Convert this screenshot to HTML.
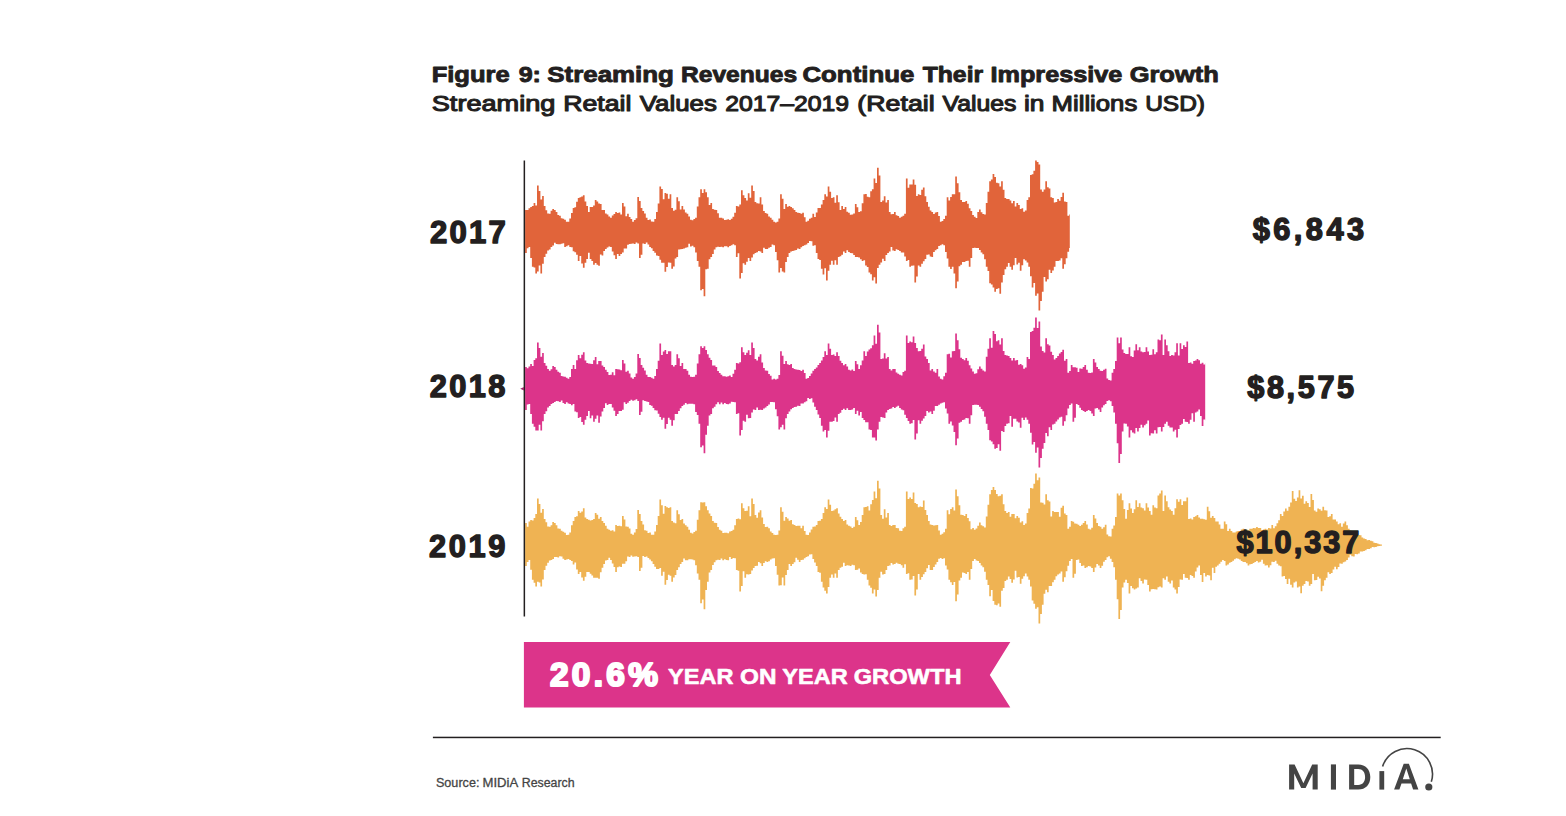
<!DOCTYPE html>
<html><head><meta charset="utf-8"><title>Figure 9: Streaming Revenues Continue Their Impressive Growth</title>
<style>
html,body{margin:0;padding:0;background:#fff;}
body{width:1566px;height:816px;overflow:hidden;position:relative;font-family:"Liberation Sans", sans-serif;}
svg{position:absolute;left:0;top:0;}
text{font-family:"Liberation Sans", sans-serif;}
</style></head>
<body>
<svg width="1566" height="816" viewBox="0 0 1566 816">
<path d="M525.1 210.0H526.8V209.9H528.5V208.2H530.2V207.0H531.9V205.9H533.6V202.9H535.3V205.4H537.0V185.4H538.7V190.9H540.4V199.4H542.1V196.0H543.8V206.0H545.5V210.2H547.2V213.5H548.9V213.8H550.6V210.7H552.3V209.0H554.0V210.0H555.7V211.9H557.4V215.0H559.1V215.8H560.8V218.2H562.5V218.8H564.2V219.7H565.9V221.7H567.6V221.7H569.3V218.5H571.0V213.0H572.7V208.0H574.4V207.2H576.1V201.7H577.8V198.0H579.5V197.3H581.2V196.5H582.9V195.2H584.6V201.5H586.3V206.0H588.0V211.9H589.7V207.0H591.4V207.0H593.1V205.6H594.8V200.0H596.5V201.6H598.2V203.6H599.9V204.0H601.6V210.0H603.3V210.0H605.0V213.6H606.7V214.5H608.4V216.5H610.1V217.7H611.8V215.5H613.5V214.0H615.2V211.9H616.9V213.1H618.6V212.5H620.3V214.4H622.0V203.0H623.7V206.4H625.4V216.2H627.1V213.8H628.8V217.1H630.5V219.0H632.2V221.7H633.9V219.9H635.6V218.3H637.3V197.0H639.0V201.1H640.7V208.0H642.4V211.1H644.1V213.5H645.8V217.7H647.5V219.9H649.2V219.6H650.9V221.5H652.6V221.7H654.3V219.1H656.0V211.9H657.7V203.5H659.4V186.4H661.1V188.9H662.8V199.3H664.5V193.0H666.2V193.8H667.9V198.8H669.6V194.2H671.3V208.0H673.0V210.7H674.7V209.8H676.4V197.2H678.1V201.3H679.8V209.6H681.5V206.0H683.2V209.4H684.9V212.5H686.6V213.8H688.3V216.6H690.0V219.7H691.7V220.2H693.4V219.0H695.1V217.7H696.8V206.4H698.5V197.2H700.2V189.3H701.9V193.0H703.6V189.3H705.3V192.2H707.0V197.2H708.7V204.9H710.4V203.0H712.1V209.0H713.8V209.8H715.5V210.0H717.2V213.3H718.9V217.8H720.6V217.7H722.3V218.4H724.0V219.9H725.7V219.7H727.4V219.2H729.1V220.0H730.8V218.7H732.5V216.8H734.2V212.7H735.9V206.0H737.6V206.5H739.3V204.6H741.0V190.3H742.7V195.2H744.4V198.1H746.1V200.6H747.8V193.2H749.5V197.8H751.2V185.4H752.9V190.9H754.6V202.0H756.3V203.3H758.0V203.6H759.7V197.2H761.4V204.6H763.1V210.9H764.8V213.0H766.5V213.8H768.2V216.5H769.9V217.7H771.6V219.8H773.3V221.7H775.0V222.5H776.7V221.7H778.4V218.6H780.1V194.2H781.8V198.7H783.5V209.1H785.2V204.0H786.9V206.8H788.6V206.1H790.3V207.0H792.0V208.3H793.7V210.1H795.4V211.9H797.1V212.8H798.8V212.9H800.5V213.7H802.2V212.8H803.9V217.3H805.6V221.7H807.3V220.8H809.0V218.7H810.7V217.8H812.4V213.8H814.1V217.0H815.8V212.6H817.5V208.0H819.2V207.9H820.9V204.5H822.6V200.0H824.3V194.2H826.0V196.4H827.7V186.4H829.4V191.8H831.1V198.1H832.8V197.2H834.5V202.7H836.2V195.2H837.9V202.2H839.6V210.1H841.3V206.0H843.0V209.1H844.7V207.0H846.4V211.7H848.1V212.8H849.8V214.7H851.5V214.5H853.2V213.4H854.9V204.0H856.6V207.3H858.3V211.9H860.0V211.3H861.7V203.2H863.4V194.2H865.1V194.0H866.8V196.7H868.5V197.2H870.2V191.3H871.9V189.2H873.6V178.5H875.3V182.9H877.0V167.7H878.7V175.4H880.4V202.0H882.1V200.4H883.8V196.2H885.5V202.6H887.2V200.0H888.9V211.9H890.6V214.2H892.3V214.1H894.0V211.9H895.7V215.3H897.4V216.1H899.1V217.7H900.8V216.8H902.5V215.7H904.2V213.8H905.9V178.5H907.6V187.7H909.3V184.4H911.0V184.6H912.7V179.5H914.4V184.7H916.1V196.0H917.8V194.2H919.5V194.9H921.2V189.7H922.9V187.4H924.6V196.2H926.3V202.0H928.0V206.7H929.7V210.6H931.4V211.9H933.1V214.1H934.8V212.6H936.5V211.9H938.2V216.0H939.9V221.7H941.6V221.0H943.3V219.1H945.0V215.8H946.7V197.2H948.4V200.4H950.1V197.0H951.8V194.2H953.5V194.2H955.2V176.6H956.9V183.2H958.6V192.3H960.3V199.9H962.0V202.0H963.7V201.9H965.4V201.1H967.1V203.7H968.8V208.3H970.5V211.1H972.2V214.9H973.9V216.7H975.6V218.0H977.3V212.1H979.0V209.4H980.7V212.3H982.4V213.9H984.1V214.6H985.8V203.1H987.5V191.7H989.2V181.3H990.9V179.5H992.6V174.0H994.3V177.1H996.0V182.7H997.7V183.3H999.4V186.5H1001.1V181.3H1002.8V189.7H1004.5V197.9H1006.2V199.0H1007.9V199.0H1009.6V200.5H1011.3V203.2H1013.0V201.0H1014.7V206.4H1016.4V203.1H1018.1V204.9H1019.8V209.0H1021.5V208.3H1023.2V211.7H1024.9V210.4H1026.6V200.0H1028.3V197.3H1030.0V175.0H1031.7V174.2H1033.4V170.8H1035.1V160.4H1036.8V162.0H1038.5V164.6H1040.2V189.6H1041.9V191.8H1043.6V189.6H1045.3V181.3H1047.0V187.3H1048.7V188.5H1050.4V197.3H1052.1V197.9H1053.8V202.4H1055.5V201.9H1057.2V199.0H1058.9V200.7H1060.6V197.0H1062.3V192.7H1064.0V201.5H1065.7V202.1H1067.4V215.7H1069.1V214.4H1069.8V247.9H1069.1V251.7H1067.4V258.3H1065.7V264.3H1064.0V268.8H1062.3V258.3H1060.6V260.4H1058.9V261.1H1057.2V261.0H1055.5V266.7H1053.8V270.4H1052.1V272.9H1050.4V269.8H1048.7V279.2H1047.0V281.5H1045.3V277.0H1043.6V291.7H1041.9V300.9H1040.2V310.4H1038.5V293.4H1036.8V295.8H1035.1V282.9H1033.4V287.5H1031.7V276.3H1030.0V266.7H1028.3V262.5H1026.6V260.4H1024.9V259.3H1023.2V265.3H1021.5V270.8H1019.8V262.8H1018.1V264.6H1016.4V257.9H1014.7V265.3H1013.0V269.8H1011.3V266.7H1009.6V262.9H1007.9V266.7H1006.2V269.3H1004.5V275.0H1002.8V282.5H1001.1V293.8H999.4V288.2H997.7V289.0H996.0V291.7H994.3V287.6H992.6V284.6H990.9V283.3H989.2V270.9H987.5V266.7H985.8V259.3H984.1V254.2H982.4V252.4H980.7V250.1H979.0V247.9H977.3V247.9H975.6V247.8H973.9V247.9H972.2V258.1H970.5V266.7H968.8V260.7H967.1V260.9H965.4V262.0H963.7V262.1H962.0V264.8H960.3V266.3H958.6V281.5H956.9V288.3H955.2V273.4H953.5V266.8H951.8V269.1H950.1V266.8H948.4V258.4H946.7V252.1H945.0V245.2H943.3V244.2H941.6V245.2H939.9V246.1H938.2V249.1H936.5V250.2H934.8V251.9H933.1V257.0H931.4V256.4H929.7V254.5H928.0V254.7H926.3V258.9H924.6V261.2H922.9V263.8H921.2V266.8H919.5V265.4H917.8V276.4H916.1V282.5H914.4V265.5H912.7V265.8H911.0V266.8H909.3V260.1H907.6V260.9H905.9V256.4H904.2V252.6H902.5V252.6H900.8V251.0H899.1V249.9H897.4V249.2H895.7V251.0H894.0V250.6H892.3V246.9H890.6V251.5H888.9V253.0H887.2V255.0H885.5V260.9H883.8V258.7H882.1V262.6H880.4V264.8H878.7V268.0H877.0V283.4H875.3V277.3H873.6V280.5H871.9V274.3H870.2V272.6H868.5V267.1H866.8V265.4H865.1V260.3H863.4V260.9H861.7V259.3H860.0V257.4H858.3V257.0H856.6V257.0H854.9V255.1H853.2V253.3H851.5V253.0H849.8V252.1H848.1V250.2H846.4V253.0H844.7V251.6H843.0V254.7H841.3V256.3H839.6V257.0H837.9V264.8H836.2V260.2H834.5V264.7H832.8V260.7H831.1V264.8H829.4V270.7H827.7V280.5H826.0V268.2H824.3V274.6H822.6V268.7H820.9V260.0H819.2V259.0H817.5V253.0H815.8V245.2H814.1V245.7H812.4V241.3H810.7V241.0H809.0V242.9H807.3V244.4H805.6V245.2H803.9V246.0H802.2V247.3H800.5V249.1H798.8V248.4H797.1V250.1H795.4V250.6H793.7V251.0H792.0V251.5H790.3V253.1H788.6V257.0H786.9V261.9H785.2V272.6H783.5V271.6H781.8V268.1H780.1V272.6H778.4V260.3H776.7V251.9H775.0V245.2H773.3V244.6H771.6V247.1H769.9V247.8H768.2V249.1H766.5V249.0H764.8V247.8H763.1V253.0H761.4V251.6H759.7V250.9H758.0V252.2H756.3V253.0H754.6V254.2H752.9V257.6H751.2V260.9H749.5V257.9H747.8V261.8H746.1V264.8H744.4V263.3H742.7V272.9H741.0V278.5H739.3V253.2H737.6V257.0H735.9V245.2H734.2V244.2H732.5V245.3H730.8V245.9H729.1V247.2H727.4V246.3H725.7V246.2H724.0V247.2H722.3V246.8H720.6V247.1H718.9V246.8H717.2V247.2H715.5V249.6H713.8V253.9H712.1V257.0H710.4V259.3H708.7V268.7H707.0V269.2H705.3V296.2H703.6V289.1H701.9V290.3H700.2V266.8H698.5V260.9H696.8V252.4H695.1V247.2H693.4V245.8H691.7V246.4H690.0V243.8H688.3V247.2H686.6V247.8H684.9V248.4H683.2V249.1H681.5V249.3H679.8V249.5H678.1V257.0H676.4V258.6H674.7V266.4H673.0V268.7H671.3V262.8H669.6V262.5H667.9V266.9H666.2V271.7H664.5V262.7H662.8V262.8H661.1V259.7H659.4V255.9H657.7V255.5H656.0V252.8H654.3V251.0H652.6V248.2H650.9V247.0H649.2V244.5H647.5V242.4H645.8V244.0H644.1V243.4H642.4V254.8H640.7V258.0H639.0V243.5H637.3V242.5H635.6V244.0H633.9V243.5H632.2V243.8H630.5V244.0H628.8V244.8H627.1V248.5H625.4V248.5H623.7V252.4H622.0V254.0H620.3V255.9H618.6V254.0H616.9V259.0H615.2V255.3H613.5V251.5H611.8V247.0H610.1V246.4H608.4V247.5H606.7V249.0H605.0V251.0H603.3V255.6H601.6V254.6H599.9V265.8H598.2V264.8H596.5V263.0H594.8V264.8H593.1V261.1H591.4V258.9H589.7V252.8H588.0V259.0H586.3V262.7H584.6V267.7H582.9V263.6H581.2V256.1H579.5V260.9H577.8V254.8H576.1V252.3H574.4V251.2H572.7V247.3H571.0V247.0H569.3V245.2H567.6V246.2H565.9V247.0H564.2V243.3H562.5V243.8H560.8V244.3H559.1V244.2H557.4V244.0H555.7V242.7H554.0V245.5H552.3V247.0H550.6V249.5H548.9V250.4H547.2V253.7H545.5V257.0H543.8V263.8H542.1V273.6H540.4V265.4H538.7V271.5H537.0V273.6H535.3V267.6H533.6V266.8H531.9V258.0H530.2V247.0H528.5V248.3H526.8V253.0H525.1Z" fill="#e1643a"/>
<path d="M525.1 367.0H526.8V368.3H528.5V366.6H530.2V364.0H531.9V365.9H533.6V360.0H535.3V358.3H537.0V342.4H538.7V347.9H540.4V356.8H542.1V353.0H543.8V363.0H545.5V365.7H547.2V369.1H548.9V370.8H550.6V369.3H552.3V366.0H554.0V367.0H555.7V369.8H557.4V371.8H559.1V372.8H560.8V376.1H562.5V376.5H564.2V376.7H565.9V377.7H567.6V378.7H569.3V376.9H571.0V368.9H572.7V365.0H574.4V369.0H576.1V360.2H577.8V355.0H579.5V358.2H581.2V354.8H582.9V352.2H584.6V360.4H586.3V363.0H588.0V363.4H589.7V363.8H591.4V364.0H593.1V360.2H594.8V357.0H596.5V364.2H598.2V360.9H599.9V361.0H601.6V365.4H603.3V367.0H605.0V369.8H606.7V371.9H608.4V375.0H610.1V374.7H611.8V372.3H613.5V375.2H615.2V368.9H616.9V369.2H618.6V369.5H620.3V370.3H622.0V360.0H623.7V363.4H625.4V371.8H627.1V370.8H628.8V373.4H630.5V377.5H632.2V378.7H633.9V377.1H635.6V373.4H637.3V354.0H639.0V358.1H640.7V365.0H642.4V367.8H644.1V370.6H645.8V374.7H647.5V377.1H649.2V377.0H650.9V377.7H652.6V378.7H654.3V376.1H656.0V368.9H657.7V360.8H659.4V343.4H661.1V354.9H662.8V351.4H664.5V350.0H666.2V353.9H667.9V351.2H669.6V351.2H671.3V365.0H673.0V366.6H674.7V365.1H676.4V354.2H678.1V358.3H679.8V366.1H681.5V363.0H683.2V369.0H684.9V369.1H686.6V370.8H688.3V374.7H690.0V376.7H691.7V377.1H693.4V376.7H695.1V374.7H696.8V363.5H698.5V354.2H700.2V346.3H701.9V348.0H703.6V346.3H705.3V349.9H707.0V354.2H708.7V357.7H710.4V360.0H712.1V365.5H713.8V365.5H715.5V367.0H717.2V371.0H718.9V372.9H720.6V374.7H722.3V376.2H724.0V376.3H725.7V376.7H727.4V376.2H729.1V375.4H730.8V376.9H732.5V373.8H734.2V369.7H735.9V363.0H737.6V363.4H739.3V362.3H741.0V347.3H742.7V352.2H744.4V355.1H746.1V352.8H747.8V350.2H749.5V355.1H751.2V342.4H752.9V347.9H754.6V359.0H756.3V360.6H758.0V356.7H759.7V354.2H761.4V362.4H763.1V367.9H764.8V370.4H766.5V370.8H768.2V373.9H769.9V375.8H771.6V379.5H773.3V378.7H775.0V379.4H776.7V378.7H778.4V374.9H780.1V351.2H781.8V355.7H783.5V364.0H785.2V361.0H786.9V364.3H788.6V365.0H790.3V364.0H792.0V368.1H793.7V369.0H795.4V369.5H797.1V369.8H798.8V370.0H800.5V371.1H802.2V369.8H803.9V373.0H805.6V378.7H807.3V378.0H809.0V376.0H810.7V373.4H812.4V370.8H814.1V369.1H815.8V367.6H817.5V365.0H819.2V363.0H820.9V360.5H822.6V357.0H824.3V351.2H826.0V355.1H827.7V343.4H829.4V348.8H831.1V355.1H832.8V354.4H834.5V355.9H836.2V352.2H837.9V356.1H839.6V360.7H841.3V363.0H843.0V365.3H844.7V364.0H846.4V366.6H848.1V369.8H849.8V370.4H851.5V369.6H853.2V370.9H854.9V361.0H856.6V364.3H858.3V368.9H860.0V365.2H861.7V360.4H863.4V351.2H865.1V355.9H866.8V351.5H868.5V349.5H870.2V348.3H871.9V345.3H873.6V335.5H875.3V343.7H877.0V324.7H878.7V332.4H880.4V359.0H882.1V358.5H883.8V353.2H885.5V358.4H887.2V357.0H888.9V368.9H890.6V370.5H892.3V369.1H894.0V368.9H895.7V372.4H897.4V373.7H899.1V374.7H900.8V375.4H902.5V371.9H904.2V370.8H905.9V335.5H907.6V343.0H909.3V341.4H911.0V342.3H912.7V336.5H914.4V343.0H916.1V347.9H917.8V351.2H919.5V351.0H921.2V348.7H922.9V344.4H924.6V356.5H926.3V359.0H928.0V363.0H929.7V370.5H931.4V368.9H933.1V371.5H934.8V372.7H936.5V368.9H938.2V376.5H939.9V378.7H941.6V379.6H943.3V376.2H945.0V372.8H946.7V354.2H948.4V353.8H950.1V357.5H951.8V351.2H953.5V350.9H955.2V333.6H956.9V340.2H958.6V349.3H960.3V357.7H962.0V359.0H963.7V360.3H965.4V358.1H967.1V360.7H968.8V365.3H970.5V368.6H972.2V371.4H973.9V373.7H975.6V373.2H977.3V369.3H979.0V366.4H980.7V368.7H982.4V370.5H984.1V371.6H985.8V356.7H987.5V348.7H989.2V338.3H990.9V347.8H992.6V331.0H994.3V334.1H996.0V341.2H997.7V340.3H999.4V344.6H1001.1V338.3H1002.8V350.9H1004.5V354.9H1006.2V355.6H1007.9V356.0H1009.6V358.0H1011.3V360.4H1013.0V358.0H1014.7V360.6H1016.4V360.1H1018.1V364.8H1019.8V364.0H1021.5V365.3H1023.2V368.7H1024.9V367.4H1026.6V357.0H1028.3V359.0H1030.0V332.0H1031.7V331.0H1033.4V327.8H1035.1V317.4H1036.8V328.1H1038.5V321.6H1040.2V346.6H1041.9V351.1H1043.6V352.6H1045.3V338.3H1047.0V344.3H1048.7V345.5H1050.4V351.7H1052.1V354.9H1053.8V359.4H1055.5V358.1H1057.2V356.0H1058.9V353.4H1060.6V352.0H1062.3V349.7H1064.0V360.7H1065.7V359.1H1067.4V372.7H1069.1V371.1H1070.8V364.9H1072.5V367.2H1074.2V367.2H1075.9V367.8H1077.6V372.0H1079.3V368.5H1081.0V368.8H1082.7V366.9H1084.4V364.9H1086.1V369.7H1087.8V372.7H1089.5V372.9H1091.2V372.4H1092.9V359.0H1094.6V362.5H1096.3V366.9H1098.0V369.0H1099.7V370.8H1101.4V371.0H1103.1V369.8H1104.8V368.8H1106.5V378.6H1108.2V380.0H1109.9V380.6H1111.6V372.7H1113.3V368.9H1115.0V361.0H1116.7V337.5H1118.4V343.3H1120.1V337.5H1121.8V349.4H1123.5V353.1H1125.2V353.9H1126.9V354.1H1128.6V347.3H1130.3V356.3H1132.0V357.1H1133.7V350.6H1135.4V344.3H1137.1V350.3H1138.8V347.3H1140.5V351.5H1142.2V352.2H1143.9V352.0H1145.6V347.3H1147.3V351.5H1149.0V355.1H1150.7V354.7H1152.4V349.2H1154.1V354.3H1155.8V352.2H1157.5V339.4H1159.2V340.3H1160.9V334.5H1162.6V355.1H1164.3V339.4H1166.0V345.3H1167.7V351.2H1169.4V356.1H1171.1V355.1H1172.8V355.4H1174.5V352.2H1176.2V343.3H1177.9V355.6H1179.6V343.3H1181.3V349.0H1183.0V345.3H1184.7V347.0H1186.4V341.4H1188.1V362.9H1189.8V362.6H1191.5V363.7H1193.2V361.0H1194.9V360.5H1196.6V359.0H1198.3V360.3H1200.0V363.7H1201.7V362.7H1203.4V364.6H1205.1V362.9H1205.2V420.6H1205.1V419.4H1203.4V426.1H1201.7V416.0H1200.0V409.6H1198.3V411.5H1196.6V412.5H1194.9V421.8H1193.2V413.2H1191.5V419.7H1189.8V423.7H1188.1V422.0H1186.4V421.8H1184.7V419.1H1183.0V423.7H1181.3V424.9H1179.6V428.9H1177.9V437.5H1176.2V429.8H1174.5V431.6H1172.8V427.4H1171.1V427.6H1169.4V425.7H1167.7V421.8H1166.0V423.7H1164.3V427.1H1162.6V431.6H1160.9V427.0H1159.2V427.2H1157.5V433.5H1155.8V430.3H1154.1V433.6H1152.4V433.3H1150.7V435.5H1149.0V420.6H1147.3V423.7H1145.6V425.2H1143.9V427.6H1142.2V424.8H1140.5V428.0H1138.8V431.6H1137.1V428.1H1135.4V433.5H1133.7V432.6H1132.0V430.2H1130.3V437.5H1128.6V426.4H1126.9V423.7H1125.2V423.5H1123.5V431.6H1121.8V454.0H1120.1V462.9H1118.4V443.3H1116.7V423.7H1115.0V412.5H1113.3V406.1H1111.6V401.2H1109.9V400.2H1108.2V400.9H1106.5V404.1H1104.8V405.2H1103.1V407.6H1101.4V412.0H1099.7V409.5H1098.0V408.0H1096.3V408.5H1094.6V415.9H1092.9V413.4H1091.2V411.0H1089.5V410.0H1087.8V411.0H1086.1V412.0H1084.4V410.9H1082.7V410.0H1081.0V407.8H1079.3V404.9H1077.6V404.1H1075.9V417.8H1074.2V421.8H1072.5V403.6H1070.8V404.9H1069.1V408.6H1067.4V415.3H1065.7V421.3H1064.0V425.8H1062.3V416.8H1060.6V417.4H1058.9V419.5H1057.2V421.6H1055.5V423.7H1053.8V424.4H1052.1V429.9H1050.4V427.2H1048.7V436.2H1047.0V433.0H1045.3V443.1H1043.6V448.7H1041.9V457.9H1040.2V467.4H1038.5V447.5H1036.8V452.8H1035.1V442.1H1033.4V444.5H1031.7V432.8H1030.0V423.7H1028.3V419.8H1026.6V417.4H1024.9V419.9H1023.2V417.8H1021.5V427.8H1019.8V422.5H1018.1V421.6H1016.4V418.8H1014.7V418.7H1013.0V426.8H1011.3V415.9H1009.6V423.2H1007.9V423.7H1006.2V426.0H1004.5V432.0H1002.8V431.1H1001.1V450.8H999.4V444.3H997.7V448.0H996.0V448.7H994.3V444.2H992.6V441.6H990.9V440.3H989.2V430.0H987.5V423.7H985.8V416.8H984.1V411.2H982.4V409.0H980.7V406.8H979.0V404.9H977.3V404.8H975.6V404.7H973.9V404.9H972.2V415.2H970.5V423.7H968.8V418.3H967.1V417.9H965.4V419.5H963.7V420.0H962.0V421.8H960.3V422.8H958.6V438.5H956.9V445.3H955.2V432.0H953.5V425.6H951.8V421.4H950.1V423.8H948.4V413.5H946.7V408.6H945.0V402.2H943.3V402.7H941.6V403.4H939.9V404.8H938.2V406.1H936.5V406.1H934.8V410.8H933.1V414.0H931.4V411.6H929.7V412.4H928.0V411.1H926.3V415.9H924.6V418.5H922.9V420.8H921.2V423.8H919.5V420.2H917.8V433.4H916.1V439.5H914.4V420.1H912.7V423.3H911.0V423.8H909.3V421.1H907.6V417.9H905.9V414.8H904.2V410.3H902.5V409.4H900.8V408.0H899.1V405.7H897.4V406.8H895.7V408.0H894.0V406.9H892.3V408.4H890.6V408.9H888.9V410.0H887.2V412.6H885.5V417.9H883.8V417.6H882.1V417.1H880.4V421.8H878.7V429.4H877.0V440.4H875.3V437.6H873.6V437.5H871.9V430.0H870.2V429.6H868.5V422.2H866.8V422.2H865.1V420.1H863.4V417.9H861.7V412.1H860.0V415.6H858.3V410.7H856.6V414.0H854.9V408.1H853.2V409.4H851.5V410.0H849.8V409.9H848.1V408.3H846.4V410.0H844.7V408.8H843.0V410.0H841.3V412.7H839.6V414.0H837.9V421.8H836.2V417.5H834.5V420.9H832.8V421.8H831.1V421.8H829.4V430.7H827.7V437.5H826.0V430.1H824.3V431.6H822.6V425.7H820.9V418.1H819.2V414.5H817.5V410.0H815.8V406.8H814.1V402.5H812.4V398.3H810.7V399.1H809.0V398.1H807.3V401.2H805.6V402.2H803.9V403.5H802.2V403.6H800.5V406.1H798.8V405.8H797.1V406.8H795.4V406.9H793.7V408.0H792.0V409.2H790.3V411.6H788.6V414.0H786.9V418.3H785.2V429.6H783.5V424.7H781.8V427.3H780.1V429.6H778.4V416.2H776.7V409.2H775.0V402.2H773.3V402.1H771.6V402.1H769.9V404.4H768.2V406.1H766.5V407.4H764.8V408.6H763.1V410.0H761.4V409.7H759.7V409.9H758.0V407.5H756.3V410.0H754.6V409.5H752.9V412.4H751.2V417.9H749.5V418.2H747.8V414.7H746.1V421.8H744.4V420.7H742.7V429.9H741.0V435.5H739.3V413.2H737.6V414.0H735.9V402.2H734.2V402.1H732.5V401.8H730.8V403.6H729.1V404.2H727.4V404.1H725.7V403.1H724.0V404.2H722.3V402.4H720.6V404.2H718.9V402.3H717.2V404.2H715.5V406.8H713.8V408.2H712.1V414.0H710.4V415.4H708.7V425.7H707.0V434.8H705.3V453.2H703.6V445.6H701.9V447.3H700.2V423.8H698.5V414.9H696.8V412.0H695.1V404.2H693.4V403.7H691.7V403.7H690.0V403.8H688.3V404.2H686.6V403.0H684.9V404.8H683.2V406.1H681.5V408.2H679.8V410.9H678.1V414.0H676.4V414.1H674.7V420.2H673.0V425.7H671.3V419.8H669.6V417.7H667.9V423.9H666.2V428.7H664.5V417.7H662.8V419.8H661.1V417.1H659.4V413.8H657.7V410.6H656.0V410.2H654.3V408.0H652.6V405.7H650.9V405.1H649.2V402.1H647.5V401.4H645.8V401.0H644.1V400.3H642.4V411.8H640.7V415.0H639.0V401.0H637.3V399.3H635.6V400.2H633.9V400.8H632.2V399.7H630.5V401.0H628.8V402.7H627.1V403.9H625.4V402.3H623.7V409.8H622.0V411.0H620.3V410.9H618.6V414.0H616.9V416.0H615.2V410.7H613.5V407.4H611.8V404.0H610.1V404.1H608.4V404.9H606.7V403.2H605.0V408.0H603.3V411.6H601.6V416.6H599.9V422.8H598.2V415.6H596.5V418.7H594.8V421.8H593.1V415.6H591.4V418.2H589.7V411.1H588.0V416.0H586.3V419.7H584.6V424.7H582.9V421.9H581.2V417.1H579.5V417.9H577.8V412.3H576.1V411.4H574.4V403.9H572.7V405.2H571.0V404.0H569.3V403.5H567.6V402.2H565.9V404.0H564.2V403.1H562.5V400.4H560.8V402.0H559.1V401.2H557.4V401.0H555.7V401.9H554.0V403.0H552.3V404.0H550.6V406.0H548.9V407.4H547.2V411.3H545.5V414.0H543.8V421.3H542.1V430.6H540.4V424.7H538.7V430.6H537.0V430.6H535.3V426.8H533.6V423.8H531.9V414.1H530.2V404.0H528.5V404.5H526.8V410.0H525.1Z" fill="#dc348a"/>
<path d="M525.1 523.0H526.8V526.8H528.5V521.5H530.2V520.0H531.9V520.4H533.6V518.1H535.3V514.0H537.0V498.4H538.7V503.9H540.4V512.7H542.1V509.0H543.8V519.0H545.5V522.2H547.2V526.4H548.9V526.8H550.6V525.3H552.3V522.0H554.0V523.0H555.7V525.3H557.4V528.5H559.1V528.8H560.8V530.8H562.5V531.7H564.2V532.7H565.9V534.9H567.6V534.7H569.3V532.5H571.0V525.3H572.7V521.0H574.4V517.1H576.1V516.3H577.8V511.0H579.5V512.8H581.2V511.4H582.9V508.2H584.6V517.4H586.3V519.0H588.0V519.7H589.7V520.4H591.4V520.0H593.1V519.1H594.8V513.0H596.5V514.8H598.2V518.8H599.9V517.0H601.6V521.1H603.3V523.0H605.0V525.8H606.7V528.8H608.4V529.8H610.1V530.7H611.8V530.2H613.5V531.4H615.2V524.9H616.9V525.9H618.6V525.8H620.3V526.2H622.0V516.0H623.7V519.4H625.4V526.4H627.1V526.8H628.8V528.6H630.5V533.7H632.2V534.7H633.9V532.4H635.6V529.0H637.3V510.0H639.0V514.1H640.7V521.0H642.4V524.5H644.1V530.2H645.8V530.7H647.5V532.9H649.2V532.5H650.9V534.7H652.6V534.7H654.3V531.5H656.0V524.9H657.7V516.0H659.4V499.4H661.1V505.3H662.8V513.7H664.5V506.0H666.2V507.2H667.9V508.1H669.6V507.2H671.3V521.0H673.0V522.6H674.7V523.3H676.4V510.2H678.1V514.3H679.8V519.9H681.5V519.0H683.2V523.4H684.9V525.3H686.6V526.8H688.3V529.8H690.0V532.7H691.7V533.6H693.4V531.9H695.1V530.7H696.8V519.7H698.5V510.2H700.2V502.3H701.9V502.5H703.6V502.3H705.3V506.2H707.0V510.2H708.7V513.4H710.4V516.0H712.1V521.0H713.8V522.8H715.5V523.0H717.2V527.0H718.9V529.7H720.6V530.7H722.3V533.1H724.0V532.8H725.7V532.7H727.4V533.2H729.1V531.4H730.8V531.0H732.5V529.8H734.2V525.2H735.9V519.0H737.6V518.4H739.3V519.3H741.0V503.3H742.7V508.2H744.4V511.1H746.1V510.7H747.8V506.2H749.5V516.2H751.2V498.4H752.9V503.9H754.6V515.0H756.3V517.7H758.0V512.6H759.7V510.2H761.4V517.5H763.1V523.9H764.8V527.0H766.5V526.8H768.2V528.3H769.9V531.6H771.6V533.0H773.3V534.7H775.0V535.0H776.7V534.7H778.4V530.6H780.1V507.2H781.8V511.7H783.5V520.8H785.2V517.0H786.9V518.4H788.6V520.7H790.3V520.0H792.0V524.2H793.7V525.1H795.4V526.1H797.1V525.8H798.8V525.8H800.5V528.3H802.2V525.8H803.9V531.0H805.6V534.7H807.3V534.9H809.0V532.6H810.7V529.5H812.4V526.8H814.1V526.6H815.8V525.1H817.5V521.0H819.2V520.7H820.9V518.9H822.6V513.0H824.3V507.2H826.0V508.9H827.7V499.4H829.4V504.8H831.1V511.1H832.8V510.5H834.5V509.3H836.2V508.2H837.9V513.5H839.6V516.7H841.3V519.0H843.0V521.0H844.7V520.0H846.4V524.5H848.1V525.8H849.8V526.4H851.5V527.9H853.2V526.7H854.9V517.0H856.6V520.3H858.3V524.9H860.0V522.1H861.7V514.9H863.4V507.2H865.1V507.0H866.8V506.3H868.5V510.5H870.2V504.3H871.9V499.9H873.6V491.5H875.3V498.2H877.0V480.7H878.7V488.4H880.4V515.0H882.1V518.7H883.8V509.2H885.5V517.6H887.2V513.0H888.9V524.9H890.6V525.9H892.3V525.1H894.0V524.9H895.7V528.0H897.4V528.3H899.1V530.7H900.8V531.0H902.5V528.2H904.2V526.8H905.9V491.5H907.6V498.9H909.3V497.4H911.0V498.9H912.7V492.5H914.4V503.0H916.1V504.1H917.8V507.2H919.5V506.6H921.2V506.9H922.9V500.4H924.6V510.0H926.3V515.0H928.0V520.9H929.7V524.4H931.4V524.9H933.1V525.5H934.8V525.3H936.5V524.9H938.2V530.5H939.9V534.7H941.6V533.7H943.3V532.2H945.0V528.8H946.7V510.2H948.4V514.3H950.1V509.1H951.8V507.2H953.5V510.6H955.2V489.6H956.9V496.2H958.6V505.3H960.3V514.8H962.0V515.0H963.7V516.1H965.4V514.1H967.1V517.9H968.8V521.3H970.5V529.3H972.2V528.0H973.9V529.7H975.6V528.5H977.3V525.7H979.0V522.4H980.7V525.2H982.4V526.3H984.1V527.6H985.8V516.4H987.5V504.7H989.2V494.3H990.9V489.9H992.6V487.0H994.3V490.1H996.0V493.9H997.7V496.3H999.4V495.7H1001.1V494.3H1002.8V504.2H1004.5V510.9H1006.2V513.1H1007.9V512.0H1009.6V516.8H1011.3V513.9H1013.0V514.0H1014.7V518.2H1016.4V516.1H1018.1V517.8H1019.8V522.6H1021.5V521.3H1023.2V524.9H1024.9V523.4H1026.6V513.0H1028.3V508.6H1030.0V488.0H1031.7V488.6H1033.4V483.8H1035.1V473.4H1036.8V480.2H1038.5V477.6H1040.2V502.6H1041.9V502.7H1043.6V504.6H1045.3V494.3H1047.0V500.3H1048.7V501.5H1050.4V516.6H1052.1V510.9H1053.8V512.0H1055.5V511.9H1057.2V512.0H1058.9V516.7H1060.6V507.7H1062.3V505.7H1064.0V513.4H1065.7V515.1H1067.4V528.7H1069.1V526.8H1070.8V520.9H1072.5V521.8H1074.2V523.5H1075.9V523.8H1077.6V524.7H1079.3V526.0H1081.0V524.8H1082.7V523.1H1084.4V520.9H1086.1V524.5H1087.8V528.7H1089.5V529.5H1091.2V527.8H1092.9V515.0H1094.6V518.5H1096.3V522.9H1098.0V526.1H1099.7V526.8H1101.4V528.7H1103.1V527.3H1104.8V524.8H1106.5V534.6H1108.2V536.2H1109.9V536.6H1111.6V528.7H1113.3V525.4H1115.0V517.0H1116.7V493.5H1118.4V495.6H1120.1V493.5H1121.8V500.2H1123.5V509.1H1125.2V518.8H1126.9V510.1H1128.6V503.3H1130.3V508.6H1132.0V513.1H1133.7V509.2H1135.4V500.3H1137.1V507.1H1138.8V503.3H1140.5V507.4H1142.2V508.2H1143.9V510.4H1145.6V503.3H1147.3V507.6H1149.0V511.1H1150.7V514.8H1152.4V505.2H1154.1V507.6H1155.8V508.2H1157.5V495.4H1159.2V493.5H1160.9V490.5H1162.6V511.1H1164.3V495.4H1166.0V501.3H1167.7V507.2H1169.4V509.5H1171.1V511.1H1172.8V514.8H1174.5V508.2H1176.2V499.3H1177.9V501.8H1179.6V499.3H1181.3V505.0H1183.0V501.3H1184.7V501.3H1186.4V497.4H1188.1V518.9H1189.8V518.4H1191.5V519.5H1193.2V517.0H1194.9V516.2H1196.6V515.0H1198.3V517.4H1200.0V518.7H1201.7V518.7H1203.4V519.3H1205.1V519.8H1206.8V506.8H1208.5V511.3H1210.2V517.8H1211.9V516.0H1213.6V518.1H1215.3V521.6H1217.0V521.5H1218.7V524.6H1220.4V528.8H1222.1V528.8H1223.8V521.5H1225.5V524.3H1227.2V530.9H1228.9V528.8H1230.6V530.9H1232.3V532.5H1234.0V532.5H1235.7V531.6H1237.4V530.9H1239.1V530.9H1240.8V529.5H1242.5V528.8H1244.2V530.0H1245.9V529.6H1247.6V530.3H1249.3V528.8H1251.0V528.7H1252.7V528.0H1254.4V528.3H1256.1V527.0H1257.8V528.1H1259.5V528.1H1261.2V529.9H1262.9V529.4H1264.6V528.8H1266.3V529.5H1268.0V528.1H1269.7V528.5H1271.4V525.1H1273.1V528.3H1274.8V526.2H1276.5V523.3H1278.2V520.2H1279.9V514.1H1281.6V516.0H1283.3V511.4H1285.0V508.6H1286.7V510.8H1288.4V506.8H1290.1V502.6H1291.8V491.1H1293.5V498.8H1295.2V501.1H1296.9V497.6H1298.6V490.2H1300.3V498.5H1302.0V495.7H1303.7V503.7H1305.4V501.3H1307.1V502.9H1308.8V507.0H1310.5V493.9H1312.2V500.0H1313.9V510.4H1315.6V511.8H1317.3V508.6H1319.0V509.2H1320.7V510.8H1322.4V506.8H1324.1V510.3H1325.8V510.4H1327.5V516.9H1329.2V516.3H1330.9V514.1H1332.6V519.4H1334.3V519.6H1336.0V521.4H1337.7V524.3H1339.4V523.3H1341.1V526.8H1342.8V523.5H1344.5V521.5H1346.2V525.2H1347.9V528.8H1349.6V530.5H1351.3V532.9H1353.0V533.0H1354.7V532.5H1356.4V534.1H1358.1V535.0H1359.8V535.3H1361.5V537.6H1363.2V538.5H1364.9V538.9H1366.6V540.2H1368.3V540.1H1370.0V540.8H1371.7V541.3H1373.4V542.8H1375.1V543.0H1376.8V543.5H1378.5V544.2H1380.2V544.6H1381.9V545.0H1383.5V545.0H1381.9V545.7H1380.2V546.0H1378.5V546.3H1376.8V546.9H1375.1V547.2H1373.4V547.1H1371.7V548.3H1370.0V549.0H1368.3V549.1H1366.6V550.2H1364.9V550.9H1363.2V551.6H1361.5V551.6H1359.8V553.6H1358.1V554.3H1356.4V553.9H1354.7V556.4H1353.0V556.2H1351.3V554.7H1349.6V557.6H1347.9V560.1H1346.2V561.6H1344.5V562.3H1342.8V563.8H1341.1V563.4H1339.4V567.1H1337.7V569.3H1336.0V566.7H1334.3V569.4H1332.6V572.9H1330.9V574.0H1329.2V572.2H1327.5V577.7H1325.8V580.3H1324.1V585.7H1322.4V591.3H1320.7V578.4H1319.0V576.7H1317.3V580.1H1315.6V580.3H1313.9V574.1H1312.2V583.9H1310.5V585.8H1308.8V581.6H1307.1V580.9H1305.4V584.0H1303.7V585.7H1302.0V593.2H1300.3V586.4H1298.6V587.6H1296.9V581.6H1295.2V582.6H1293.5V587.6H1291.8V584.7H1290.1V578.8H1288.4V584.0H1286.7V578.9H1285.0V575.9H1283.3V576.6H1281.6V566.3H1279.9V565.6H1278.2V563.7H1276.5V560.7H1274.8V561.9H1273.1V561.7H1271.4V565.2H1269.7V567.4H1268.0V565.2H1266.3V565.4H1264.6V563.8H1262.9V559.7H1261.2V561.8H1259.5V562.6H1257.8V560.9H1256.1V561.9H1254.4V562.9H1252.7V564.0H1251.0V564.2H1249.3V565.6H1247.6V563.2H1245.9V562.0H1244.2V561.9H1242.5V561.1H1240.8V559.4H1239.1V558.8H1237.4V558.2H1235.7V559.3H1234.0V560.7H1232.3V561.9H1230.6V562.8H1228.9V564.6H1227.2V565.6H1225.5V560.9H1223.8V560.1H1222.1V561.7H1220.4V563.7H1218.7V565.6H1217.0V566.8H1215.3V572.9H1213.6V567.7H1211.9V580.3H1210.2V575.4H1208.5V575.1H1206.8V576.6H1205.1V573.0H1203.4V582.1H1201.7V575.0H1200.0V565.6H1198.3V567.6H1196.6V571.5H1194.9V577.8H1193.2V576.1H1191.5V575.0H1189.8V579.7H1188.1V578.0H1186.4V577.8H1184.7V574.1H1183.0V579.7H1181.3V579.5H1179.6V586.9H1177.9V593.5H1176.2V589.4H1174.5V587.6H1172.8V580.5H1171.1V583.6H1169.4V581.8H1167.7V576.6H1166.0V579.7H1164.3V578.3H1162.6V587.6H1160.9V586.5H1159.2V587.2H1157.5V589.5H1155.8V589.2H1154.1V589.1H1152.4V589.2H1150.7V591.5H1149.0V584.9H1147.3V579.7H1145.6V579.6H1143.9V583.6H1142.2V581.1H1140.5V578.2H1138.8V587.6H1137.1V588.6H1135.4V589.5H1133.7V588.3H1132.0V585.9H1130.3V593.5H1128.6V582.9H1126.9V579.7H1125.2V582.5H1123.5V587.6H1121.8V610.0H1120.1V618.9H1118.4V599.3H1116.7V579.7H1115.0V567.2H1113.3V562.1H1111.6V558.8H1109.9V556.2H1108.2V557.3H1106.5V560.1H1104.8V561.7H1103.1V565.8H1101.4V568.0H1099.7V565.6H1098.0V564.0H1096.3V567.6H1094.6V571.9H1092.9V568.1H1091.2V566.4H1089.5V566.0H1087.8V567.2H1086.1V568.0H1084.4V565.4H1082.7V566.0H1081.0V563.1H1079.3V559.4H1077.6V560.1H1075.9V573.8H1074.2V577.8H1072.5V559.1H1070.8V560.9H1069.1V565.7H1067.4V571.3H1065.7V577.3H1064.0V581.8H1062.3V571.4H1060.6V573.4H1058.9V574.6H1057.2V576.3H1055.5V579.7H1053.8V582.3H1052.1V585.9H1050.4V586.1H1048.7V592.2H1047.0V589.7H1045.3V593.8H1043.6V604.7H1041.9V613.9H1040.2V623.4H1038.5V607.2H1036.8V608.8H1035.1V603.8H1033.4V600.5H1031.7V586.4H1030.0V579.7H1028.3V576.6H1026.6V573.4H1024.9V576.2H1023.2V578.7H1021.5V583.8H1019.8V576.9H1018.1V577.6H1016.4V570.7H1014.7V579.6H1013.0V582.8H1011.3V579.1H1009.6V576.6H1007.9V579.7H1006.2V581.1H1004.5V588.0H1002.8V590.8H1001.1V606.8H999.4V603.6H997.7V605.2H996.0V604.7H994.3V601.0H992.6V590.1H990.9V596.3H989.2V585.0H987.5V579.7H985.8V571.8H984.1V567.2H982.4V565.6H980.7V563.1H979.0V560.9H977.3V560.4H975.6V559.0H973.9V560.9H972.2V568.9H970.5V579.7H968.8V572.0H967.1V573.9H965.4V572.9H963.7V572.4H962.0V577.8H960.3V580.4H958.6V594.5H956.9V601.3H955.2V582.0H953.5V585.0H951.8V582.3H950.1V579.8H948.4V569.4H946.7V565.6H945.0V558.2H943.3V558.9H941.6V558.0H939.9V558.8H938.2V562.1H936.5V564.6H934.8V567.0H933.1V570.0H931.4V570.1H929.7V565.1H928.0V568.2H926.3V571.9H924.6V574.2H922.9V577.1H921.2V579.8H919.5V574.0H917.8V589.4H916.1V595.5H914.4V576.1H912.7V579.4H911.0V579.8H909.3V573.2H907.6V573.9H905.9V564.3H904.2V567.7H902.5V565.2H900.8V564.0H899.1V563.8H897.4V562.7H895.7V564.0H894.0V564.5H892.3V562.9H890.6V565.5H888.9V566.0H887.2V570.1H885.5V573.9H883.8V574.4H882.1V571.8H880.4V577.8H878.7V589.9H877.0V596.4H875.3V589.5H873.6V593.5H871.9V587.8H870.2V585.6H868.5V579.7H866.8V574.2H865.1V574.5H863.4V573.9H861.7V572.4H860.0V568.4H858.3V569.8H856.6V570.0H854.9V565.2H853.2V564.8H851.5V566.0H849.8V565.4H848.1V565.2H846.4V566.0H844.7V562.7H843.0V566.7H841.3V567.8H839.6V570.0H837.9V577.8H836.2V573.4H834.5V577.7H832.8V574.5H831.1V577.8H829.4V586.9H827.7V593.5H826.0V590.7H824.3V587.6H822.6V581.7H820.9V572.8H819.2V571.9H817.5V566.0H815.8V562.6H814.1V559.1H812.4V554.3H810.7V554.6H809.0V556.2H807.3V557.0H805.6V558.2H803.9V559.7H802.2V560.1H800.5V562.1H798.8V559.8H797.1V557.8H795.4V562.3H793.7V564.0H792.0V565.9H790.3V563.9H788.6V570.0H786.9V575.1H785.2V585.6H783.5V577.5H781.8V585.2H780.1V585.6H778.4V574.7H776.7V566.0H775.0V558.2H773.3V558.5H771.6V559.4H769.9V561.2H768.2V562.1H766.5V561.3H764.8V563.1H763.1V566.0H761.4V563.3H759.7V562.1H758.0V565.8H756.3V566.0H754.6V568.1H752.9V570.4H751.2V573.9H749.5V574.4H747.8V574.2H746.1V577.8H744.4V571.3H742.7V585.9H741.0V591.5H739.3V570.7H737.6V570.0H735.9V558.2H734.2V558.1H732.5V559.0H730.8V557.0H729.1V560.2H727.4V560.0H725.7V559.3H724.0V560.2H722.3V558.4H720.6V560.0H718.9V559.7H717.2V560.2H715.5V562.2H713.8V565.0H712.1V570.0H710.4V572.6H708.7V581.7H707.0V590.0H705.3V609.2H703.6V599.5H701.9V603.3H700.2V579.8H698.5V573.4H696.8V565.2H695.1V560.2H693.4V559.6H691.7V559.3H690.0V559.2H688.3V560.2H686.6V560.3H684.9V558.5H683.2V562.1H681.5V564.1H679.8V567.3H678.1V570.0H676.4V575.1H674.7V577.6H673.0V581.7H671.3V575.8H669.6V574.7H667.9V579.9H666.2V584.7H664.5V571.8H662.8V575.8H661.1V568.1H659.4V568.9H657.7V569.0H656.0V566.7H654.3V564.0H652.6V561.2H650.9V559.4H649.2V558.1H647.5V556.5H645.8V557.0H644.1V556.0H642.4V567.8H640.7V571.0H639.0V556.9H637.3V556.3H635.6V556.6H633.9V556.7H632.2V555.6H630.5V557.0H628.8V556.5H627.1V561.2H625.4V563.7H623.7V563.8H622.0V567.0H620.3V566.4H618.6V567.2H616.9V572.0H615.2V567.1H613.5V563.4H611.8V560.0H610.1V557.8H608.4V559.9H606.7V560.6H605.0V564.0H603.3V567.8H601.6V572.3H599.9V578.8H598.2V577.8H596.5V577.7H594.8V577.8H593.1V575.6H591.4V573.7H589.7V571.9H588.0V572.0H586.3V576.8H584.6V580.7H582.9V577.6H581.2V571.9H579.5V573.9H577.8V569.4H576.1V562.6H574.4V564.5H572.7V561.1H571.0V560.0H569.3V559.0H567.6V559.5H565.9V560.0H564.2V558.8H562.5V556.5H560.8V556.2H559.1V557.4H557.4V557.0H555.7V556.9H554.0V559.1H552.3V560.0H550.6V560.4H548.9V562.8H547.2V565.7H545.5V570.0H543.8V579.4H542.1V586.6H540.4V582.4H538.7V581.7H537.0V586.6H535.3V582.7H533.6V579.8H531.9V569.8H530.2V560.0H528.5V562.0H526.8V566.0H525.1Z" fill="#efb353"/>
<rect x="523.6" y="160.5" width="1.5" height="456" fill="#231f20"/>
<path d="M520.2 388.7L524 386.9V390.5Z" fill="#9a2868"/>
<path d="M523.9 642.1H1010.3L989.8 674.9L1010.3 707.6H523.9Z" fill="#dc348a"/>
<rect x="432.9" y="736.7" width="1007.8" height="1.5" fill="#231f20"/>
<text x="431.65" y="82.15" font-size="22.67" font-weight="bold" fill="#231f20" stroke="#231f20" stroke-width="0.90" stroke-linejoin="round" textLength="78.10" lengthAdjust="spacingAndGlyphs">Figure</text>
<text x="518.65" y="82.15" font-size="22.67" font-weight="bold" fill="#231f20" stroke="#231f20" stroke-width="0.90" stroke-linejoin="round" textLength="22.30" lengthAdjust="spacingAndGlyphs">9:</text>
<text x="547.25" y="82.15" font-size="22.67" font-weight="bold" fill="#231f20" stroke="#231f20" stroke-width="0.90" stroke-linejoin="round" textLength="126.70" lengthAdjust="spacingAndGlyphs">Streaming</text>
<text x="681.05" y="82.15" font-size="22.67" font-weight="bold" fill="#231f20" stroke="#231f20" stroke-width="0.90" stroke-linejoin="round" textLength="116.10" lengthAdjust="spacingAndGlyphs">Revenues</text>
<text x="802.45" y="82.15" font-size="22.67" font-weight="bold" fill="#231f20" stroke="#231f20" stroke-width="0.90" stroke-linejoin="round" textLength="111.90" lengthAdjust="spacingAndGlyphs">Continue</text>
<text x="922.65" y="82.15" font-size="22.67" font-weight="bold" fill="#231f20" stroke="#231f20" stroke-width="0.90" stroke-linejoin="round" textLength="60.50" lengthAdjust="spacingAndGlyphs">Their</text>
<text x="990.45" y="82.15" font-size="22.67" font-weight="bold" fill="#231f20" stroke="#231f20" stroke-width="0.90" stroke-linejoin="round" textLength="131.90" lengthAdjust="spacingAndGlyphs">Impressive</text>
<text x="1129.65" y="82.15" font-size="22.67" font-weight="bold" fill="#231f20" stroke="#231f20" stroke-width="0.90" stroke-linejoin="round" textLength="89.10" lengthAdjust="spacingAndGlyphs">Growth</text>
<text x="431.75" y="111.05" font-size="22.53" font-weight="normal" fill="#231f20" stroke="#231f20" stroke-width="1.10" stroke-linejoin="round" textLength="123.70" lengthAdjust="spacingAndGlyphs">Streaming</text>
<text x="563.15" y="111.05" font-size="22.53" font-weight="normal" fill="#231f20" stroke="#231f20" stroke-width="1.10" stroke-linejoin="round" textLength="68.30" lengthAdjust="spacingAndGlyphs">Retail</text>
<text x="639.75" y="111.05" font-size="22.53" font-weight="normal" fill="#231f20" stroke="#231f20" stroke-width="1.10" stroke-linejoin="round" textLength="77.10" lengthAdjust="spacingAndGlyphs">Values</text>
<text x="725.35" y="111.05" font-size="22.53" font-weight="normal" fill="#231f20" stroke="#231f20" stroke-width="1.10" stroke-linejoin="round" textLength="123.70" lengthAdjust="spacingAndGlyphs">2017&#8211;2019</text>
<text x="857.35" y="111.05" font-size="22.53" font-weight="normal" fill="#231f20" stroke="#231f20" stroke-width="1.10" stroke-linejoin="round" textLength="77.30" lengthAdjust="spacingAndGlyphs">(Retail</text>
<text x="942.55" y="111.05" font-size="22.53" font-weight="normal" fill="#231f20" stroke="#231f20" stroke-width="1.10" stroke-linejoin="round" textLength="73.90" lengthAdjust="spacingAndGlyphs">Values</text>
<text x="1023.95" y="111.05" font-size="22.53" font-weight="normal" fill="#231f20" stroke="#231f20" stroke-width="1.10" stroke-linejoin="round" textLength="20.50" lengthAdjust="spacingAndGlyphs">in</text>
<text x="1051.55" y="111.05" font-size="22.53" font-weight="normal" fill="#231f20" stroke="#231f20" stroke-width="1.10" stroke-linejoin="round" textLength="85.70" lengthAdjust="spacingAndGlyphs">Millions</text>
<text x="1145.15" y="111.05" font-size="22.53" font-weight="normal" fill="#231f20" stroke="#231f20" stroke-width="1.10" stroke-linejoin="round" textLength="59.90" lengthAdjust="spacingAndGlyphs">USD)</text>
<text x="429.90" y="243.20" font-size="31.09" font-weight="bold" fill="#231f20" stroke="#231f20" stroke-width="1.40" stroke-linejoin="round" textLength="75.80" lengthAdjust="spacing">2017</text>
<text x="429.70" y="397.10" font-size="30.80" font-weight="bold" fill="#231f20" stroke="#231f20" stroke-width="1.40" stroke-linejoin="round" textLength="75.60" lengthAdjust="spacing">2018</text>
<text x="429.10" y="557.10" font-size="30.80" font-weight="bold" fill="#231f20" stroke="#231f20" stroke-width="1.40" stroke-linejoin="round" textLength="76.20" lengthAdjust="spacing">2019</text>
<text x="1252.70" y="240.20" font-size="30.80" font-weight="bold" fill="#231f20" stroke="#231f20" stroke-width="1.40" stroke-linejoin="round" textLength="111.40" lengthAdjust="spacing">$6,843</text>
<text x="1247.30" y="398.20" font-size="30.66" font-weight="bold" fill="#231f20" stroke="#231f20" stroke-width="1.40" stroke-linejoin="round" textLength="106.80" lengthAdjust="spacing">$8,575</text>
<text x="1236.50" y="552.80" font-size="30.66" font-weight="bold" fill="#231f20" stroke="#231f20" stroke-width="1.40" stroke-linejoin="round" textLength="122.80" lengthAdjust="spacing">$10,337</text>
<text x="549.90" y="686.10" font-size="33.38" font-weight="bold" fill="#ffffff" stroke="#ffffff" stroke-width="2.20" stroke-linejoin="round" textLength="108.00" lengthAdjust="spacing">20.6%</text>
<text x="668.10" y="683.90" font-size="22.97" font-weight="bold" fill="#ffffff" stroke="#ffffff" stroke-width="0.60" stroke-linejoin="round" textLength="65.40" lengthAdjust="spacingAndGlyphs">YEAR</text>
<text x="740.10" y="683.90" font-size="22.97" font-weight="bold" fill="#ffffff" stroke="#ffffff" stroke-width="0.60" stroke-linejoin="round" textLength="36.40" lengthAdjust="spacingAndGlyphs">ON</text>
<text x="782.30" y="683.90" font-size="22.97" font-weight="bold" fill="#ffffff" stroke="#ffffff" stroke-width="0.60" stroke-linejoin="round" textLength="65.40" lengthAdjust="spacingAndGlyphs">YEAR</text>
<text x="853.70" y="683.90" font-size="22.97" font-weight="bold" fill="#ffffff" stroke="#ffffff" stroke-width="0.60" stroke-linejoin="round" textLength="107.80" lengthAdjust="spacingAndGlyphs">GROWTH</text>
<text x="435.95" y="786.65" font-size="13.08" font-weight="normal" fill="#444444" stroke="#444444" stroke-width="0.30" stroke-linejoin="round" textLength="43.50" lengthAdjust="spacingAndGlyphs">Source:</text>
<text x="482.55" y="786.65" font-size="13.08" font-weight="normal" fill="#444444" stroke="#444444" stroke-width="0.30" stroke-linejoin="round" textLength="35.70" lengthAdjust="spacingAndGlyphs">MIDiA</text>
<text x="521.75" y="786.65" font-size="13.08" font-weight="normal" fill="#444444" stroke="#444444" stroke-width="0.30" stroke-linejoin="round" textLength="52.90" lengthAdjust="spacingAndGlyphs">Research</text>
<g fill="#444444">
<path d="M1289.1 789.6V764.4H1294.6L1303.4 783.2L1312.2 764.4H1317.7V789.6H1312.6V773.5L1305.6 787.9H1301.2L1294.2 773.5V789.6Z"/>
<rect x="1330.9" y="764.4" width="5.1" height="25.2"/>
<path d="M1349.1 764.4H1358.3C1365.6 764.4 1370.3 769.4 1370.3 777S1365.6 789.6 1358.3 789.6H1349.1ZM1354.2 769.1V784.9H1358.2C1362.6 784.9 1365.1 781.8 1365.1 777S1362.6 769.1 1358.2 769.1Z"/>
<rect x="1379.4" y="771.1" width="4.8" height="18.5"/>
<path d="M1394.1 789.6L1403.7 763.8H1408.9L1418.4 789.6H1413.1L1411.1 783.4H1401.5L1399.4 789.6ZM1402.8 779.2H1409.8L1406.3 768.6Z"/>
<circle cx="1428.8" cy="787.0" r="3.6"/>
</g>
<path d="M1382.6 766.4A25.5 25.5 0 1 1 1431.3 781.8" fill="none" stroke="#444444" stroke-width="1.6"/>
</svg>
</body></html>
